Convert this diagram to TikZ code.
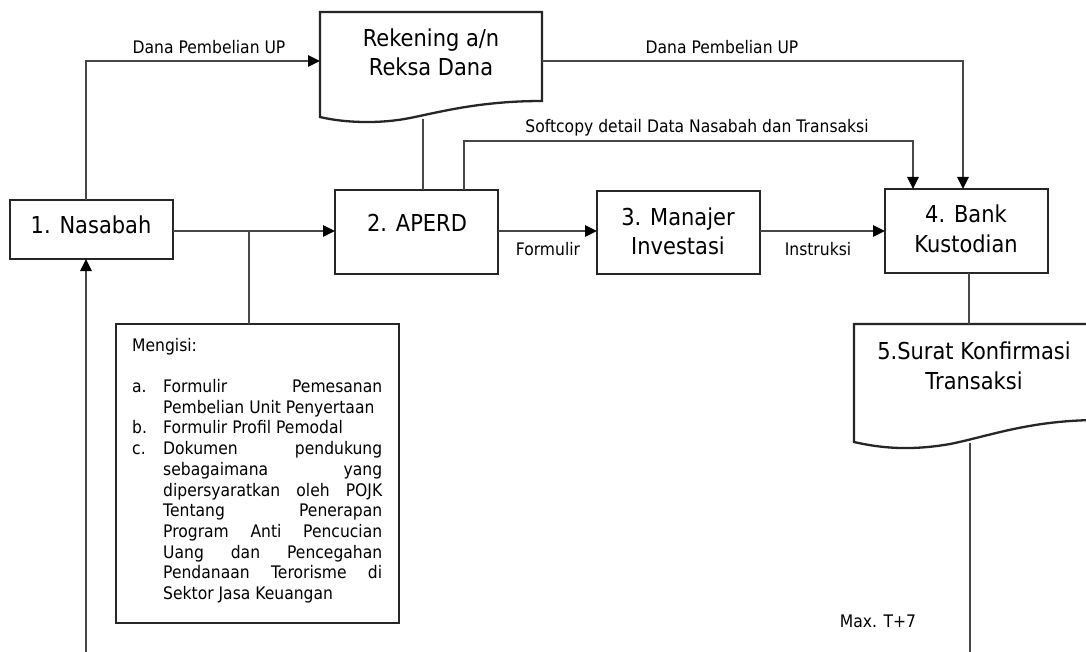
\documentclass[tikz,border=0pt]{standalone}
\usepackage{fontspec}
\setmainfont{DejaVu Sans}[FakeStretch=0.9]
\usetikzlibrary{arrows.meta,fit,calc}
\newcommand\isiL[2]{\makebox[31pt][l]{#1}\makebox[219pt][s]{#2}}
\newcommand\isiJ[1]{\hspace*{31pt}\makebox[219pt][s]{#1}}
\newcommand\isiP[1]{\hspace*{31pt}#1}
\begin{document}
\begin{tikzpicture}[x=1pt,y=-1pt,
  shp/.style={draw=black!85, line width=2.3pt, inner sep=0pt, outer sep=0pt},
  conn/.style={draw=black!72, line width=1.6pt},
  arr/.style={conn, -{Triangle[length=12pt,width=11.5pt,fill=black,color=black]}},
  big/.style={font=\fontsize{23.3}{29.5}\selectfont, align=center, inner sep=0pt, text=black},
  lab/.style={font=\fontsize{17.3}{20.7}\selectfont, inner sep=0pt, text=black},
]
\useasboundingbox (0,0) rectangle (1086,652);
\clip (0,0) rectangle (1086,652);
\fill[white] (0,0) rectangle (1086,652);

% boxes
\node[shp, fit={(10,200) (173,259)}] (nas) {};
\node[big] (nasT) at (91,225) {1. Nasabah};

\node[inner sep=0pt, outer sep=0pt, fit={(320,12) (542,117)}] (rek) {};
\draw[shp] (rek.south west) -- (rek.north west) -- (rek.north east) -- (542,101)
  .. controls (480,101) and (440,112) .. (410,118)
  .. controls (380,124) and (345,123) .. (rek.south west) -- cycle;
\node[big] (rekT) at (431,52.5) {Rekening a/n\\Reksa Dana};

\node[shp, fit={(335,190) (498,274)}] (aperd) {};
\node[big] (aperdT) at (417,223) {2. APERD};

\node[shp, fit={(597,191) (760,274)}] (mi) {};
\node[big] (miT) at (678,231.5) {3. Manajer\\Investasi};

\node[shp, fit={(885,189) (1048,273)}] (bk) {};
\node[big] (bkT) at (966,229) {4. Bank\\Kustodian};

\node[inner sep=0pt, outer sep=0pt, fit={(854,324) (1100,442)}] (srt) {};
\draw[shp] (srt.south west) -- (srt.north west) -- (srt.north east) -- (1100,420)
  .. controls (1030,420) and (990,436) .. (950,444)
  .. controls (910,451) and (880,448) .. (srt.south west) -- cycle;
\node[big] (srtT) at (974,366) {5.Surat Konfirmasi\\Transaksi};

\node[shp, line width=2pt, fit={(116,324) (399,623)}] (isi) {};
\node[lab, anchor=north west, align=left] (isiT) at (132,336.5) {%
\strut Mengisi:\\[20.7pt]
\strut\isiL{a.}{Formulir Pemesanan}\\
\strut\isiP{Pembelian Unit Penyertaan}\\
\strut\isiL{b.}{Formulir Profil Pemodal\hfill}\\
\strut\isiL{c.}{Dokumen pendukung}\\
\strut\isiJ{sebagaimana yang}\\
\strut\isiJ{dipersyaratkan oleh POJK}\\
\strut\isiJ{Tentang Penerapan}\\
\strut\isiJ{Program Anti Pencucian}\\
\strut\isiJ{Uang dan Pencegahan}\\
\strut\isiJ{Pendanaan Terorisme di}\\
\strut\isiP{Sektor Jasa Keuangan}};

% connectors
\coordinate (p1) at (86,61);
\draw[arr] (p1 |- nas.north) -- (p1) -- (p1 -| rek.west);
\node[lab] (l1) at (209,47) {Dana Pembelian UP};

\coordinate (p2) at (963,61);
\draw[arr] (p2 -| rek.east) -- (p2) -- (p2 |- bk.north);
\node[lab] (l2) at (722,47) {Dana Pembelian UP};

\coordinate (p3) at (423,119);
\draw[conn] (p3) -- (p3 |- aperd.north);

\coordinate (p4) at (464,141);
\coordinate (p5) at (913,141);
\draw[arr] (p4 |- aperd.north) -- (p4) -- (p5) -- (p5 |- bk.north);
\node[lab] (l3) at (697,128) {Softcopy detail Data Nasabah dan Transaksi};

\coordinate (y1) at (0,231);
\draw[arr] (nas.east |- y1) -- (aperd.west |- y1);
\coordinate (br) at (249,231);
\draw[conn] (br) -- (br |- isi.north);

\draw[arr] (aperd.east |- y1) -- (mi.west |- y1);
\node[lab] (l4) at (548,249) {Formulir};

\draw[arr] (mi.east |- y1) -- (bk.west |- y1);
\node[lab] (l5) at (818,249) {Instruksi};

\coordinate (p6) at (969,0);
\draw[conn] (p6 |- bk.south) -- (p6 |- srt.north);

\coordinate (p7) at (970,443);
\coordinate (p8) at (970,652);
\draw[conn] (p7) -- (p8);

\coordinate (p9) at (86,652);
\draw[arr] (p9) -- (p9 |- nas.south);

\node[lab] (l6) at (878,621) {Max. T+7};
\end{tikzpicture}
\end{document}
